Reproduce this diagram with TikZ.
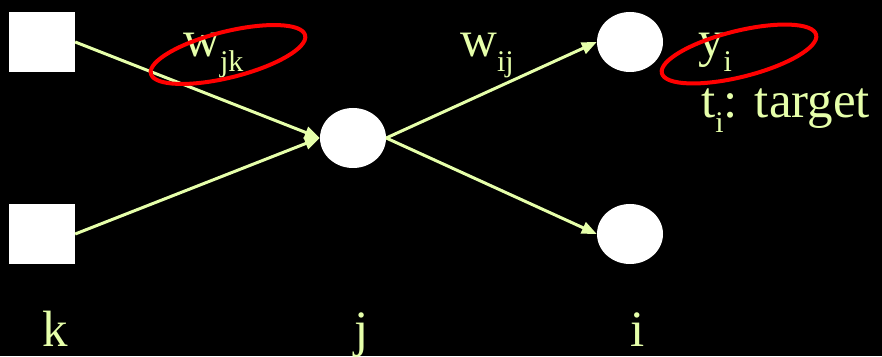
\documentclass[tikz,border=0pt]{standalone}
\usepackage{fontspec}
\setmainfont{Liberation Serif}
\newfontfamily\timesfam{Liberation Serif}
\usetikzlibrary{arrows.meta,shapes.geometric}
\definecolor{lbl}{RGB}{230,255,170}
\newcommand\subtxt[1]{\raisebox{-15pt}{\fontsize{30}{30}\selectfont #1}}
\begin{document}
\begin{tikzpicture}[x=1pt,y=1pt,
  sq/.style={rectangle,fill=white,minimum width=66pt,minimum height=60pt,inner sep=0pt},
  neuron/.style={ellipse,fill=white,minimum width=66pt,minimum height=60pt,inner sep=0pt},
  conn/.style={draw=lbl,line width=3pt},
  arr/.style={conn,-{Triangle[length=15pt,width=12pt]}},
  txt/.style={text=lbl,inner sep=0pt,font=\timesfam\fontsize{51}{51}\selectfont},
  ring/.style={draw=red,line width=4pt}]
\fill[black] (0,0) rectangle (882,356);
\useasboundingbox (0,0) rectangle (882,356);
% nodes
\node[sq] (k1) at (42,314) {};
\node[sq] (k2) at (42,122) {};
\node[neuron] (mid) at (353,218) {};
\node[neuron] (o1) at (630,314) {};
\node[neuron] (o2) at (630,122) {};
% connectors
\draw[arr] (k1.east) -- (mid.west);
\draw[arr] (k2.east) -- (mid.west);
\draw[arr] (mid.east) -- (o1.west);
\draw[arr] (mid.east) -- (o2.west);
% labels
\node[txt,anchor=base west] (wjk) at (183,299) {w\subtxt{jk}};
\node[txt,anchor=base west] (wij) at (460,299) {w\subtxt{ij}};
\node[txt,anchor=base west] (yi) at (698,299) {y\subtxt{i}};
\node[txt,anchor=base west] (ti) at (701,238) {t\subtxt{i}: target};
\node[txt,anchor=base] (lk) at (55.5,10) {k};
\node[txt,anchor=base] (lj) at (362,10) {j};
\node[txt,anchor=base] (li) at (638,10) {i};
% red rings
\draw[ring,rotate around={14:(228,301.5)}] (228,301.5) ellipse [x radius=79.5pt, y radius=23pt];
\draw[ring,rotate around={14:(739,302)}] (739,302) ellipse [x radius=79.5pt, y radius=23pt];
\end{tikzpicture}
\end{document}
